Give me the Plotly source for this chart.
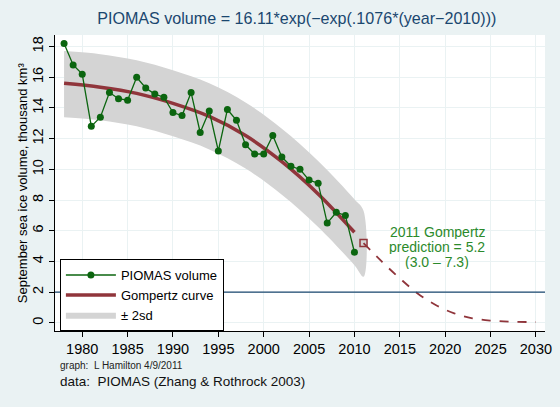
import plotly.graph_objects as go

# PIOMAS September volume
years = list(range(1978, 2011))
volume = [18.2, 16.8, 16.2, 12.8, 13.4, 15.0, 14.6, 14.5, 16.0, 15.3, 14.9,
          14.7, 13.7, 13.5, 15.0, 12.4, 13.8, 11.2, 13.9, 13.2, 11.6, 11.0,
          11.0, 12.2, 10.8, 10.2, 10.0, 9.3, 9.1, 6.5, 7.2, 7.0, 4.6]

# fitted Gompertz curve (values read at sample years)
fit_years = [1978, 1982, 1986, 1990, 1994, 1998, 2002, 2006, 2010]
fit_vals = [15.6, 15.35, 14.95, 14.3, 13.45, 12.2, 10.5, 8.4, 5.9]

# +/- 2sd band
band_years = [1978, 1982, 1986, 1990, 1994, 1998, 2002, 2006, 2010, 2011]
band_hi = [17.7, 17.5, 17.1, 16.45, 15.6, 14.35, 12.65, 10.55, 8.05, 7.3]
band_lo = [13.4, 13.2, 12.8, 12.15, 11.3, 10.05, 8.35, 6.25, 3.75, 3.0]

# projection beyond 2010
proj_years = [2011, 2013, 2015, 2017, 2019, 2021, 2023, 2025, 2027, 2030]
proj_vals = [5.2, 4.0, 2.9, 1.9, 1.15, 0.62, 0.3, 0.15, 0.08, 0.05]

pred_year = [2011]
pred_val = [5.2]

note_lines = ["2011 Gompertz", "prediction = 5.2", "(3.0 – 7.3)"]
note_y = [5.95, 4.97, 4.0]

GREEN = "#0b650f"
MAROON = "#90353b"
NAVY = "#1a476f"
BG = "#eaf2f3"

fig = go.Figure()

fig.add_trace(go.Scatter(
    x=band_years + band_years[::-1], y=band_hi + band_lo[::-1],
    fill="toself", fillcolor="#d4d4d4", line=dict(width=0, shape="spline"),
    mode="lines", name="± 2sd", legendrank=3, hoverinfo="skip"))

fig.add_hline(y=2, line=dict(color=NAVY, width=1.3))

fig.add_trace(go.Scatter(
    x=fit_years, y=fit_vals, mode="lines", name="Gompertz curve",
    line=dict(color=MAROON, width=3.5, shape="spline"), legendrank=2))

fig.add_trace(go.Scatter(
    x=proj_years, y=proj_vals, mode="lines", showlegend=False,
    line=dict(color=MAROON, width=1.8, dash="dash", shape="spline")))

fig.add_trace(go.Scatter(
    x=pred_year, y=pred_val, mode="markers", showlegend=False,
    marker=dict(symbol="square-open", size=7, color=MAROON,
                line=dict(width=1.5))))

fig.add_trace(go.Scatter(
    x=years, y=volume, mode="lines+markers", name="PIOMAS volume",
    line=dict(color=GREEN, width=1.3),
    marker=dict(color=GREEN, size=7), legendrank=1))

# green prediction note, one line at a time for tight spacing
for txt, yy in zip(note_lines, note_y):
    fig.add_annotation(
        x=2019.1, y=yy, xref="x", yref="y", text=txt, height=15,
        showarrow=False, font=dict(size=14, color="#2b8a2b"))

fig.add_annotation(
    x=0.006, y=-0.118, xref="paper", yref="paper",
    xanchor="left", yanchor="middle", text="graph:  L Hamilton 4/9/2011",
    showarrow=False, font=dict(size=10, color="#222222"))
fig.add_annotation(
    x=0.006, y=-0.172, xref="paper", yref="paper", xanchor="left",
    yanchor="middle", text="data:  PIOMAS (Zhang & Rothrock 2003)",
    showarrow=False, font=dict(size=13.5, color="#111111"))
fig.add_annotation(
    x=-0.067, y=0.5, xref="paper", yref="paper", xanchor="center",
    yanchor="middle", textangle=-90,
    text="September sea ice volume, thousand km³",
    showarrow=False, font=dict(size=13, color="black"))

fig.update_layout(
    width=560, height=407,
    margin=dict(l=55, r=15, t=35, b=76, autoexpand=False),
    paper_bgcolor=BG, plot_bgcolor="white",
    font=dict(family="Liberation Sans, Arial, sans-serif", color="black"),
    title=dict(text="PIOMAS volume = 16.11*exp(−exp(.1076*(year−2010)))",
               x=0.53, xanchor="center", y=0.955, yanchor="middle",
               font=dict(size=16.1, color=NAVY)),
    legend=dict(x=0.01, y=0.243, xanchor="left", yanchor="top",
                bgcolor="white", bordercolor="black", borderwidth=1,
                font=dict(size=13), itemwidth=50, tracegroupgap=0),
    showlegend=True,
)

fig.update_xaxes(
    range=[1977, 2031], tickvals=list(range(1980, 2031, 5)),
    showgrid=True, gridcolor=BG, gridwidth=1,
    ticks="outside", ticklen=5, tickcolor="black",
    showline=True, linecolor="black", linewidth=1,
    tickfont=dict(size=14.5), zeroline=False, automargin=False)

fig.update_yaxes(
    range=[-0.53, 18.75], tickvals=list(range(0, 19, 2)),
    showgrid=True, gridcolor=BG, gridwidth=1,
    ticks="outside", ticklen=5, tickcolor="black", tickangle=-90,
    showline=True, linecolor="black", linewidth=1,
    tickfont=dict(size=14.5), zeroline=False, automargin=False)

fig.write_html("out.html", config={"displayModeBar": False},
               post_script="document.body.style.margin='0';")
